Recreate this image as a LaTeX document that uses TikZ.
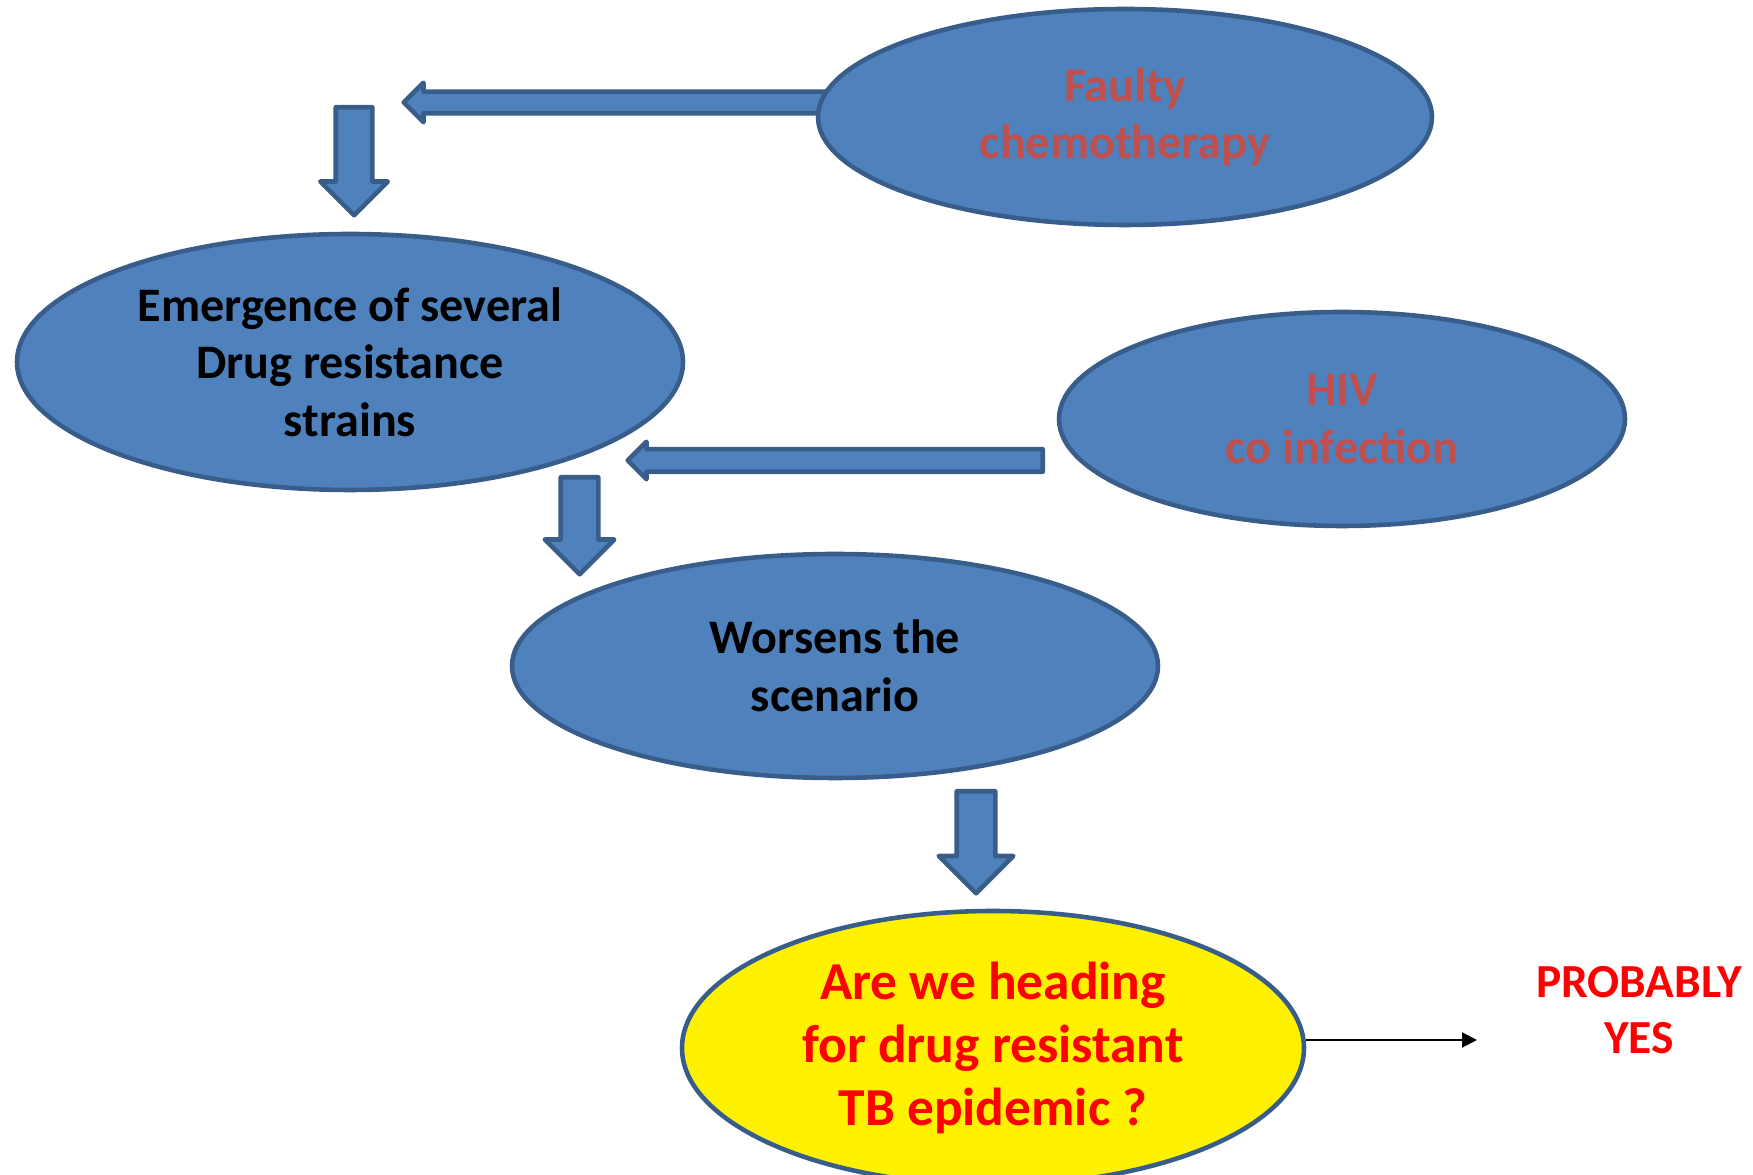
\documentclass[tikz,border=0pt]{standalone}
\usepackage{fontspec}
\setmainfont{Carlito}
\usepackage{xcolor}
\usetikzlibrary{shapes.geometric,shapes.arrows,arrows.meta}
\definecolor{boxblue}{HTML}{4F81BD}
\definecolor{edgeblue}{HTML}{385D8A}
\definecolor{txtred}{HTML}{C0504D}
\tikzset{
 bubble/.style={ellipse,draw=edgeblue,fill=boxblue,line width=1.3pt,inner sep=0pt,align=center,font=\fontsize{13.7}{16.4}\selectfont\bfseries},
 fatarrow/.style={single arrow,draw=edgeblue,fill=boxblue,line width=1.3pt,line join=round,inner xsep=0pt,single arrow tip angle=90,anchor=tail}
}
\begin{document}
\begin{tikzpicture}[x=0.1mm,y=-0.1mm]
\useasboundingbox (0,0) rectangle (1753,1175);
\node[fatarrow,minimum height=10.8mm,inner ysep=1.6mm,single arrow head extend=1.55mm,rotate=-90] (down1) at (354,105) {};
\node[fatarrow,minimum height=42.4mm,inner ysep=0.85mm,single arrow head extend=0.9mm,rotate=180] (left1) at (830,102.5) {};
\node[fatarrow,minimum height=9.7mm,inner ysep=1.65mm,single arrow head extend=1.6mm,rotate=-90] (down2) at (579.5,475) {};
\node[fatarrow,minimum height=41.5mm,inner ysep=0.9mm,single arrow head extend=0.75mm,rotate=180] (left2) at (1045,460.5) {};
\node[fatarrow,minimum height=10.2mm,inner ysep=1.7mm,single arrow head extend=1.8mm,rotate=-90] (down3) at (976,789) {};

\node[bubble,minimum width=61.4mm,minimum height=21.6mm,text=txtred] (faulty) at (1125,117) {Faulty\\chemotherapy};
\node[bubble,minimum width=66.6mm,minimum height=25.6mm] (emerge) at (350,362) {Emergence of several\\Drug resistance\\strains};
\node[bubble,minimum width=56.6mm,minimum height=21.4mm,text=txtred] (hiv) at (1342,419) {HIV\\co infection};
\node[bubble,minimum width=64.6mm,minimum height=22.4mm] (worse) at (835,666) {Worsens the\\scenario};
\node[bubble,fill=yellow,text=red,minimum width=62.2mm,minimum height=27.4mm,font=\fontsize{15.2}{17.9}\selectfont\bfseries] (q) at (993,1048) {Are we heading\\for drug resistant\\TB epidemic ?};
\node[text=red,align=center,font=\fontsize{13.5}{16}\selectfont\bfseries] (ans) at (1639,1010) {PROBABLY\\YES};
\coordinate (yesend) at (1477,1040);
\draw[-{Triangle[length=1.5mm,width=1.5mm]},line width=0.6pt] (q.east |- yesend) -- (yesend);
\end{tikzpicture}
\end{document}
